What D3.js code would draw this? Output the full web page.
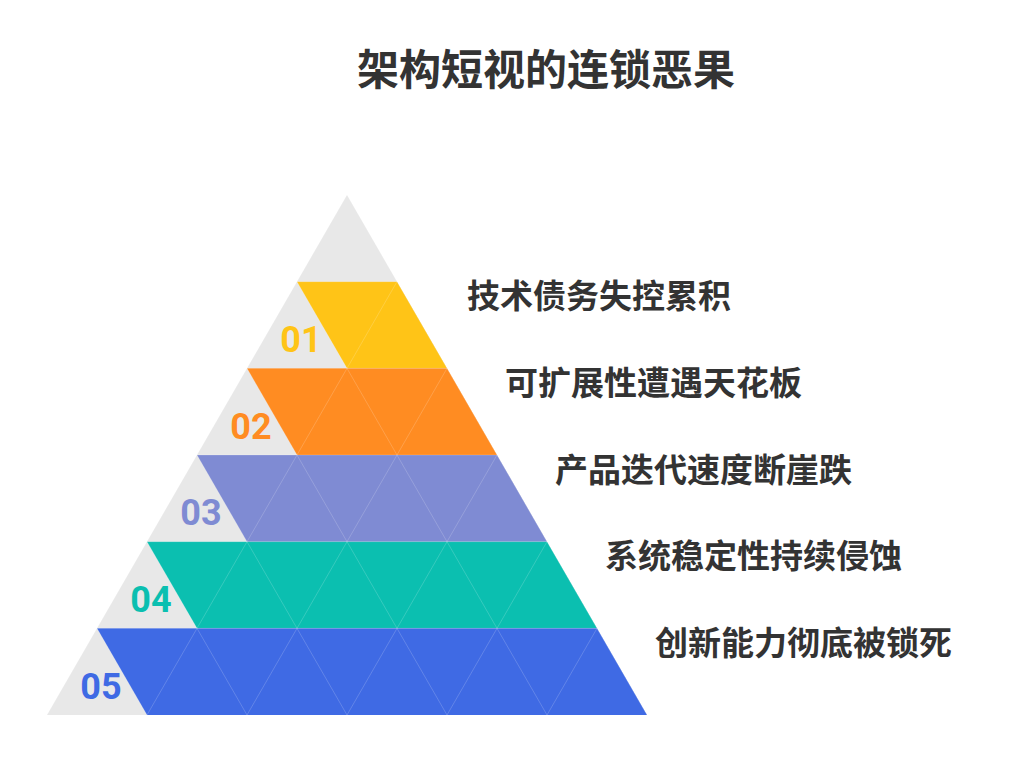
<!DOCTYPE html>
<html lang="zh">
<head>
<meta charset="UTF-8">
<title>架构短视的连锁恶果</title>
<script src="https://d3js.org/d3.v7.min.js"></script>
<style>
  body { margin: 0; background: #fff; font-family: "Noto Sans CJK SC", sans-serif; }
</style>
</head>
<body>
<div id="chart"></div>
<script>
const title = "架构短视的连锁恶果";
const levels = ["01", "02", "03", "04", "05"];
const labels = ["技术债务失控累积", "可扩展性遭遇天花板", "产品迭代速度断崖跌", "系统稳定性持续侵蚀", "创新能力彻底被锁死"];
const colors = ["#FFC417", "#FF8C22", "#7F8BD3", "#0BBFB0", "#3F6AE4"];

const W = 1024, H = 761, rows = 6;
const svg = d3.select("#chart").append("svg").attr("width", W).attr("height", H);

// row index -> y, lattice unit -> x offset from apex
const y = d3.scaleLinear().domain([0, rows]).range([195, 715]);
const x = d3.scaleLinear().domain([-rows / 2, rows / 2]).range([47, 647]);
const half = r => r / 2; // half-width in lattice units at row r

svg.append("text").attr("x", 546).attr("y", 70).attr("dy", "0.35em").attr("text-anchor", "middle")
  .attr("font-size", 42).attr("font-weight", "bold").attr("fill", "#333").text(title);

const tri = [[x(0), y(0)], [x(rows / 2), y(rows)], [x(-rows / 2), y(rows)]];
svg.append("defs").append("clipPath").attr("id", "tri")
  .append("polygon").attr("points", tri.join(" "));

svg.append("polygon").attr("points", tri.join(" ")).attr("fill", "#e8e8e8");

// numbers (under bands)
levels.forEach((n, i) => {
  const r = i + 1;
  const cx = (x(-half(r)) + x(-half(r) + 0.5) + x(-half(r + 1))) / 3;
  const cy = y(r) + (y(r + 1) - y(r)) * 2 / 3;
  svg.append("text").attr("x", cx + 4).attr("y", cy).attr("dy", "0.35em")
    .attr("text-anchor", "middle").attr("font-family", "Roboto, sans-serif")
    .attr("font-size", 36).attr("font-weight", "bold").attr("fill", colors[i]).text(n);
});

// bands
levels.forEach((n, i) => {
  const r = i + 1;
  const pts = [
    [x(-half(r)), y(r)], [x(half(r)), y(r)],
    [x(half(r + 1)), y(r + 1)], [x(-half(r) + 0.5), y(r + 1)]
  ];
  svg.append("polygon").attr("points", pts.join(" ")).attr("fill", colors[i]);
  svg.append("text").attr("x", x(half(r)) + (i === 0 ? 70 : 58)).attr("y", y(r) + 15)
    .attr("dy", "0.35em").attr("font-size", 33).attr("font-weight", "bold")
    .attr("fill", "#333").text(labels[i]);
});

// lattice lines
const g = svg.append("g").attr("clip-path", "url(#tri)")
  .attr("stroke", "#fff").attr("stroke-opacity", 0.18).attr("stroke-width", 1);
for (let r = 1; r < rows; r++) {
  g.append("line").attr("x1", x(-3)).attr("x2", x(3)).attr("y1", y(r)).attr("y2", y(r));
}
for (let k = -rows; k <= rows; k++) {
  g.append("line").attr("x1", x(k - 3)).attr("y1", y(rows))
    .attr("x2", x(k - 3 + rows / 2)).attr("y2", y(0));
  g.append("line").attr("x1", x(k - 3)).attr("y1", y(rows))
    .attr("x2", x(k - 3 - rows / 2)).attr("y2", y(0));
}
</script>
</body>
</html>
